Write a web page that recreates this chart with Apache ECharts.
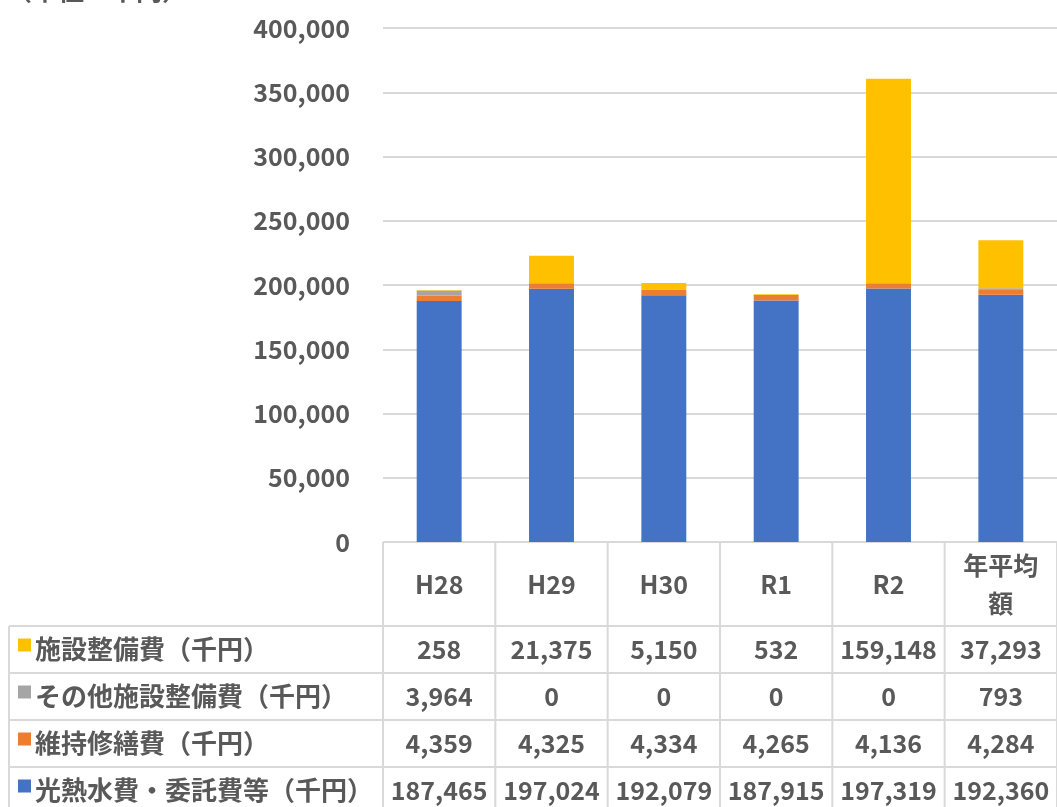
<!DOCTYPE html>
<html>
<head>
<meta charset="utf-8">
<script src="https://cdn.jsdelivr.net/npm/echarts@6/dist/echarts.min.js"></script>
<style>
html,body{margin:0;padding:0;background:#fff;}
#main{width:1057px;height:807px;}
</style>
</head>
<body>
<div id="main"></div>
<script>
const categories = ['H28', 'H29', 'H30', 'R1', 'R2', '年平均\n額'];
const seriesNames = ['光熱水費・委託費等（千円）', '維持修繕費（千円）', 'その他施設整備費（千円）', '施設整備費（千円）'];
const utilities = [187465, 197024, 192079, 187915, 197319, 192360];
const maintenance = [4359, 4325, 4334, 4265, 4136, 4284];
const otherFacility = [3964, 0, 0, 0, 0, 793];
const facility = [258, 21375, 5150, 532, 159148, 37293];
const seriesColors = ['#4472C4', '#ED7D31', '#A5A5A5', '#FFC000'];
const yMin = 0, yMax = 400000, yInterval = 50000;
const unitLabel = '（単位：千円）';

const FONT = '"Noto Sans CJK JP", "Noto Sans", sans-serif';
const TXT = '#595959';
const LINE = '#d9d9d9';
const FS = 25;
const FS_NAME = 26;

const chart = echarts.init(document.getElementById('main'));
const seriesData = [utilities, maintenance, otherFacility, facility];

chart.setOption({
  animation: false,
  grid: {left: 383, right: -9, top: 28, bottom: 265, containLabel: false},
  xAxis: {
    type: 'category',
    data: categories,
    axisLine: {show: false},
    axisTick: {show: false},
    axisLabel: {
      color: TXT, fontFamily: FONT, fontSize: FS, fontWeight: 'bold',
      margin: 42, verticalAlign: 'middle', lineHeight: 38, interval: 0
    }
  },
  yAxis: {
    type: 'value', min: yMin, max: yMax, interval: yInterval,
    axisLine: {show: false}, axisTick: {show: false},
    axisLabel: {
      color: TXT, fontFamily: FONT, fontSize: FS, fontWeight: 'bold', margin: 33,
      formatter: v => v.toLocaleString('en-US')
    },
    splitLine: {lineStyle: {color: LINE, width: 2}}
  },
  series: seriesData.map((d, i) => ({
    name: seriesNames[i], type: 'bar', stack: 'total', data: d,
    barWidth: '40%', itemStyle: {color: seriesColors[i]}
  }))
});

// Data table below the plot, positioned from the chart's own axes
const x0 = chart.convertToPixel({xAxisIndex: 0}, 0);
const x1 = chart.convertToPixel({xAxisIndex: 0}, 1);
const band = x1 - x0;
const yZero = chart.convertToPixel({yAxisIndex: 0}, 0);
const headerH = 84, rowH = 47;
const tableLeft = 9;
const plotLeft = x0 - band / 2;
const plotRight = plotLeft + band * categories.length;
const rowsTop = yZero + headerH;
const nRows = 4;
const tableBottom = rowsTop + rowH * nRows;

const g = [];
const ls = {stroke: LINE, lineWidth: 2};
g.push({type: 'line', shape: {x1: plotLeft, y1: yZero, x2: plotRight, y2: yZero}, style: ls, silent: true});
for (let r = 0; r <= nRows; r++) {
  const y = rowsTop + r * rowH;
  g.push({type: 'line', shape: {x1: tableLeft, y1: y, x2: plotRight, y2: y}, style: ls, silent: true});
}
g.push({type: 'line', shape: {x1: tableLeft, y1: rowsTop, x2: tableLeft, y2: tableBottom}, style: ls, silent: true});
for (let c = 0; c <= categories.length; c++) {
  const x = plotLeft + c * band;
  g.push({type: 'line', shape: {x1: x, y1: yZero, x2: x, y2: tableBottom}, style: ls, silent: true});
}
for (let r = 0; r < nRows; r++) {
  const si = nRows - 1 - r;
  const cy = rowsTop + r * rowH + rowH / 2;
  g.push({type: 'rect', shape: {x: 18, y: cy - 11, width: 13, height: 13}, style: {fill: seriesColors[si]}, silent: true});
  g.push({type: 'text', x: 35, y: cy, style: {text: seriesNames[si], fill: TXT, font: 'bold ' + FS_NAME + 'px ' + FONT, textAlign: 'left', textVerticalAlign: 'middle'}, silent: true});
  seriesData[si].forEach((v, c) => {
    const cx = chart.convertToPixel({xAxisIndex: 0}, c);
    g.push({type: 'text', x: cx, y: cy, style: {text: v.toLocaleString('en-US'), fill: TXT, font: 'bold ' + FS + 'px ' + FONT, textAlign: 'center', textVerticalAlign: 'middle'}, silent: true});
  });
}
g.push({type: 'text', x: 6, y: 3, style: {text: unitLabel, fill: TXT, font: 'bold ' + FS_NAME + 'px ' + FONT, textAlign: 'left', textVerticalAlign: 'bottom'}, silent: true});

chart.setOption({graphic: g});
</script>
</body>
</html>
